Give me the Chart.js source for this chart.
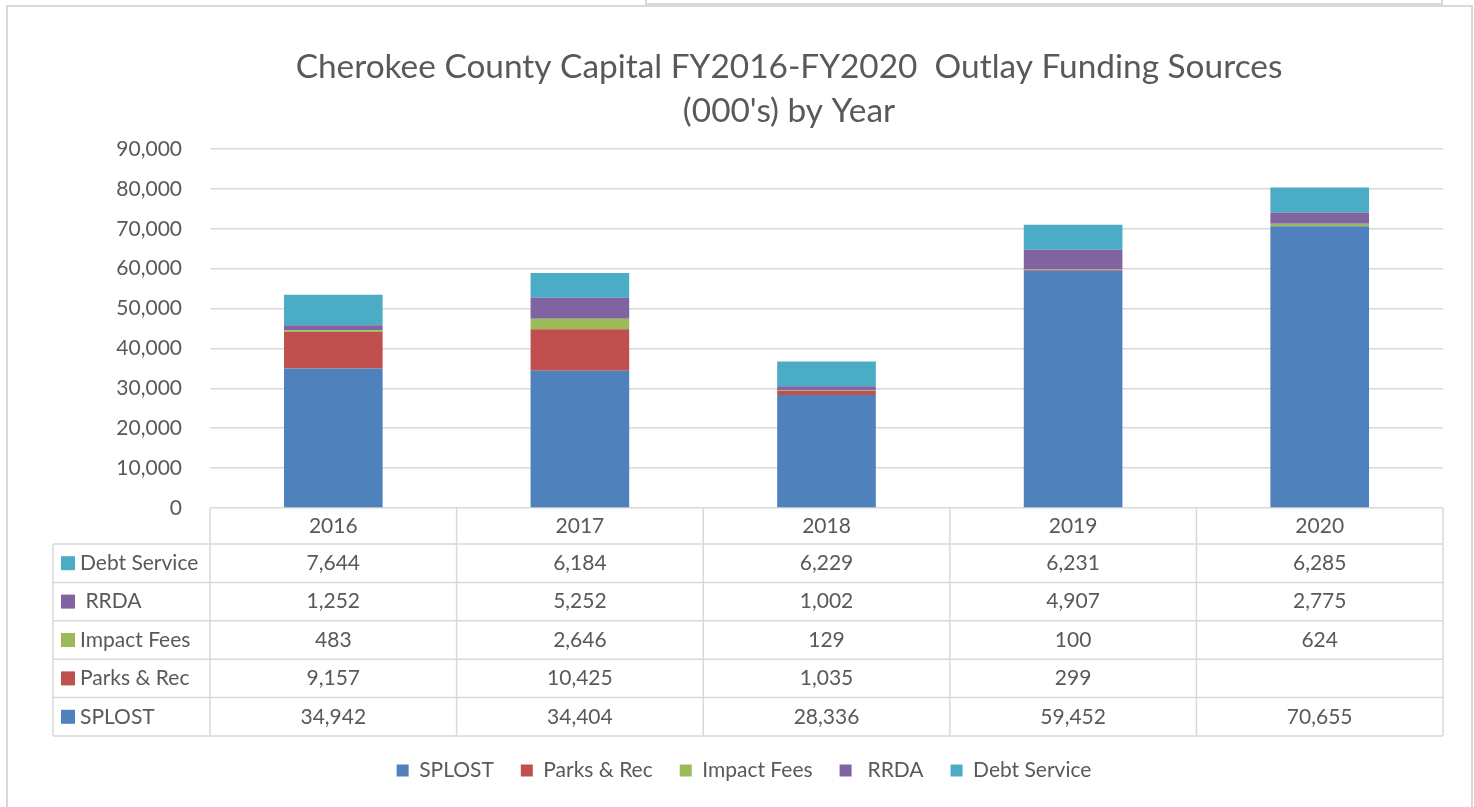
<!DOCTYPE html>
<html lang="en">
<head>
    <meta charset="UTF-8">
    <title>Cherokee County Capital Outlay Funding Sources</title>
    <script src="https://cdn.jsdelivr.net/npm/chart.js@4.4.1/dist/chart.umd.min.js"></script>
    <style>
        html, body { margin: 0; padding: 0; background: #fff; overflow: hidden; }
        .frame {
            position: absolute; left: 6px; top: 5px; width: 1467px; height: 900px;
            border: 2px solid #d9d9d9; box-sizing: border-box;
        }
        .cell-above {
            position: absolute; left: 645px; top: -4px; width: 798px; height: 9px;
            border: 2px solid #d9d9d9; box-sizing: border-box;
        }
        .chart-box { position: absolute; left: 0; top: 0; width: 1474px; height: 807px; }
    </style>
</head>
<body>
    <div class="frame"></div>
    <div class="cell-above"></div>
    <div class="chart-box">
        <canvas id="fundingChart"></canvas>
    </div>

    <script>
        const titleLines = ["Cherokee County Capital FY2016-FY2020  Outlay Funding Sources", "(000's) by Year"];
        const years = ["2016", "2017", "2018", "2019", "2020"];
        const seriesNames = ["SPLOST", "Parks & Rec", "Impact Fees", " RRDA", "Debt Service"];
        const splost = [34942, 34404, 28336, 59452, 70655];
        const parksRec = [9157, 10425, 1035, 299, null];
        const impactFees = [483, 2646, 129, 100, 624];
        const rrda = [1252, 5252, 1002, 4907, 2775];
        const debtService = [7644, 6184, 6229, 6231, 6285];
        const seriesColors = ["#4F81BD", "#C0504D", "#9BBB59", "#8064A2", "#4BACC6"];

        const textColor = "#595959";
        const lineColor = "#d9d9d9";
        const fontName = "Lato";

        Chart.defaults.font.family = fontName;
        Chart.defaults.color = textColor;

        // title drawn by hand so it can sit off-centre like the original
        const titlePlugin = {
            id: "titleText",
            afterDraw(chart) {
                const ctx = chart.ctx;
                ctx.save();
                ctx.font = "33.4px " + fontName;
                ctx.fillStyle = textColor;
                ctx.textAlign = "center";
                ctx.textBaseline = "middle";
                titleLines.forEach((line, i) => ctx.fillText(line, 789, 67 + i * 44));
                ctx.restore();
            }
        };

        // data table under the plot, columns follow the x scale
        const tablePlugin = {
            id: "dataTable",
            afterDraw(chart) {
                const ctx = chart.ctx;
                const xs = chart.scales.x;
                const area = chart.chartArea;
                const colW = (area.right - area.left) / years.length;
                const tableLeft = 53;
                const headerH = 36;
                const rowH = 38.4;
                const top = area.bottom;
                const bodyTop = top + headerH;
                const bottom = bodyTop + rowH * seriesNames.length;

                ctx.save();
                ctx.strokeStyle = lineColor;
                ctx.lineWidth = 1.5;
                ctx.beginPath();
                for (let i = 0; i <= years.length; i++) {
                    const x = area.left + i * colW;
                    ctx.moveTo(x, top);
                    ctx.lineTo(x, bottom);
                }
                ctx.moveTo(tableLeft, bodyTop);
                ctx.lineTo(tableLeft, bottom);
                for (let r = 0; r <= seriesNames.length; r++) {
                    const y = bodyTop + r * rowH;
                    ctx.moveTo(tableLeft, y);
                    ctx.lineTo(area.right, y);
                }
                ctx.stroke();

                ctx.font = "21px " + fontName;
                ctx.fillStyle = textColor;
                ctx.textBaseline = "middle";
                ctx.textAlign = "center";
                years.forEach((year, i) => {
                    ctx.fillText(year, xs.getPixelForValue(i), top + headerH / 2);
                });

                // rows are listed top to bottom in reverse stacking order
                const datasets = chart.data.datasets;
                for (let r = 0; r < datasets.length; r++) {
                    const ds = datasets[datasets.length - 1 - r];
                    const cy = bodyTop + r * rowH + rowH / 2;
                    ctx.fillStyle = ds.backgroundColor;
                    ctx.fillRect(61, cy - 7, 14, 14);
                    ctx.fillStyle = textColor;
                    ctx.textAlign = "left";
                    ctx.fillText(ds.label, 80, cy);
                    ctx.textAlign = "center";
                    ds.data.forEach((v, i) => {
                        if (v === null) return;
                        ctx.fillText(v.toLocaleString("en-US"), xs.getPixelForValue(i), cy);
                    });
                }
                ctx.restore();
            }
        };

        const seriesValues = [splost, parksRec, impactFees, rrda, debtService];

        const ctx = document.getElementById("fundingChart").getContext("2d");
        const fundingChart = new Chart(ctx, {
            type: "bar",
            data: {
                labels: years,
                datasets: seriesNames.map((name, i) => ({
                    label: name,
                    data: seriesValues[i],
                    backgroundColor: seriesColors[i],
                    borderWidth: 0,
                    categoryPercentage: 1,
                    barPercentage: 0.4
                }))
            },
            options: {
                responsive: true,
                maintainAspectRatio: false,
                animation: false,
                layout: {
                    padding: { left: 45, right: 31, top: 149, bottom: 16 }
                },
                plugins: {
                    title: { display: false },
                    tooltip: { enabled: false },
                    legend: {
                        position: "bottom",
                        labels: {
                            boxWidth: 12,
                            boxHeight: 12,
                            padding: 27,
                            color: textColor,
                            font: { size: 21 }
                        }
                    }
                },
                scales: {
                    x: {
                        stacked: true,
                        ticks: { display: false },
                        grid: { display: false },
                        border: { display: false },
                        afterFit: (scale) => { scale.height = 225; }
                    },
                    y: {
                        stacked: true,
                        min: 0,
                        max: 90000,
                        ticks: {
                            stepSize: 10000,
                            padding: 28,
                            color: textColor,
                            font: { size: 21 },
                            callback: (v) => v.toLocaleString("en-US")
                        },
                        grid: { color: lineColor, lineWidth: 1.5, drawTicks: false },
                        border: { display: false },
                        afterFit: (scale) => { scale.width = 165; }
                    }
                }
            },
            plugins: [titlePlugin, tablePlugin]
        });
    </script>
</body>
</html>
